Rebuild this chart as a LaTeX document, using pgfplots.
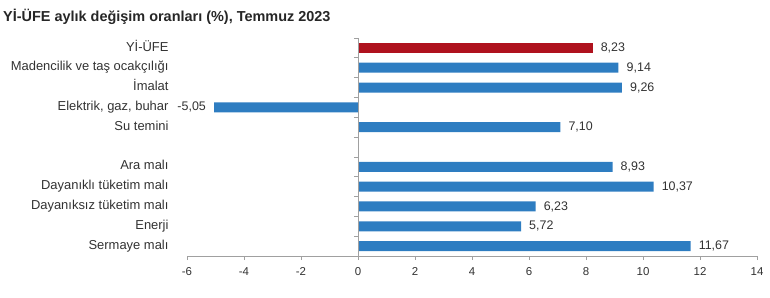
\documentclass[border=0pt]{standalone}
\usepackage{pgfplots}
\pgfplotsset{compat=1.18}
\usepackage{fontspec}
\setmainfont{Liberation Sans}
\definecolor{barblue}{RGB}{46,125,193}
\definecolor{barred}{RGB}{175,18,30}
\definecolor{axgray}{RGB}{160,160,160}
\definecolor{txt}{RGB}{50,50,50}
\begin{document}
\begin{tikzpicture}
\useasboundingbox (0,0) rectangle (770bp,298bp);
\node[anchor=west,font=\fontsize{14.5}{16}\selectfont\bfseries,text=black!85,inner sep=0pt] at (3bp,281bp) {Yİ-ÜFE aylık değişim oranları (\%), Temmuz 2023};
\begin{axis}[
  at={(187bp,42bp)}, anchor=south west,
  scale only axis, width=570bp, height=218bp,
  xmin=-6, xmax=14, ymin=-0.5, ymax=10.5, y dir=reverse,
  xtick={-6,-4,...,14},
  ytick={0,1,2,3,4,6,7,8,9,10},
  yticklabels={Yİ-ÜFE, Madencilik ve taş ocakçılığı, İmalat, {Elektrik, gaz, buhar}, Su temini, Ara malı, Dayanıklı tüketim malı, Dayanıksız tüketim malı, Enerji, Sermaye malı},
  axis x line*=bottom, axis y line*=left,
  separate axis lines,
  x axis line style={axgray, line width=0.8pt, -},
  y axis line style={draw=none},
  ytick style={draw=none},
  xtick style={axgray, line width=0.8pt},
  tick align=outside, major tick length=4bp,
  /pgf/number format/assume math mode=true,
  xticklabel style={font=\fontsize{11.5}{13}\selectfont, text=txt, yshift=-4bp},
  yticklabel style={font=\fontsize{13}{15}\selectfont, text=txt, xshift=-11bp, text height=9bp, text depth=2.7bp},
  xbar, bar width=10bp, bar shift=0pt,
  nodes near coords,
  nodes near coords align={horizontal},
  every node near coord/.append style={font=\fontsize{12.5}{14}\selectfont, text=txt, inner xsep=8bp,
    /pgf/number format/.cd, fixed, fixed zerofill, precision=2, use comma, assume math mode=true},
  clip=false,
]
\addplot[fill=barred, draw=none] coordinates {(8.23,0)};
\addplot[fill=barblue, draw=none] coordinates {(9.14,1) (9.26,2) (-5.05,3) (7.10,4) (8.93,6) (10.37,7) (6.23,8) (5.72,9) (11.67,10)};
\draw[axgray, line width=0.8pt] (axis cs:0,-0.5) -- (axis cs:0,10.5);
\pgfplotsinvokeforeach{-0.5,0.5,1.5,2.5,3.5,4.5,5.5,6.5,7.5,8.5,9.5}{
  \draw[axgray, line width=0.8pt] (axis cs:0,#1) -- ([xshift=-4bp]axis cs:0,#1);
}
\end{axis}
\end{tikzpicture}
\end{document}
